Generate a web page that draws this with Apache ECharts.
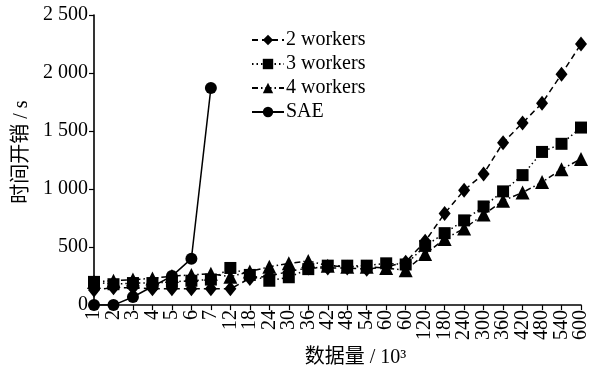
<!DOCTYPE html>
<html>
<head>
<meta charset="utf-8">
<script src="https://cdn.jsdelivr.net/npm/echarts@6/dist/echarts.min.js"></script>
<style>
  html, body { margin: 0; padding: 0; background: #fff; }
  #chart { width: 601px; height: 373px; }
</style>
</head>
<body>
<div id="chart"></div>
<script>
// Data size (×10^3 records) on the category axis
const categories = ['1','2','3','4','5','6','7','12','18','24','30','36','42','48','54','60','60','120','180','240','300','360','420','480','540','600'];

// Time overhead (s) per configuration
const workers2 = [130, 150, 150, 140, 140, 140, 140, 140, 230, 250, 290, 320, 320, 320, 310, 330, 370, 550, 790, 990, 1130, 1400, 1570, 1740, 1990, 2250];
const workers3 = [200, 180, 190, 190, 200, 210, 220, 320, 260, 210, 240, 310, 340, 340, 340, 360, 350, 510, 620, 730, 850, 980, 1120, 1320, 1390, 1530];
const workers4 = [200, 210, 220, 230, 250, 260, 270, 245, 290, 330, 360, 380, 340, 330, 330, 320, 300, 440, 570, 660, 780, 900, 970, 1060, 1170, 1260];
const sae      = [0, 0, 70, 160, 250, 400, 1870];

const yTicks = { min: 0, max: 2500, step: 500 };

const FONT = '"Liberation Serif", "Times New Roman", "Noto Sans CJK SC", serif';
const INK = '#000';
const FS = 20;

function thousands(v) {
  if (v < 1000) return String(v);
  return Math.floor(v / 1000) + ' ' + String(v % 1000).padStart(3, '0');
}

function lineSeries(name, data, symbol, size, dash) {
  return {
    name: name,
    type: 'line',
    data: data,
    symbol: symbol,
    symbolSize: size,
    showSymbol: true,
    animation: false,
    itemStyle: { color: INK },
    lineStyle: { color: INK, width: 1.5, type: dash },
    emphasis: { disabled: true }
  };
}

const chart = echarts.init(document.getElementById('chart'), null, { renderer: 'canvas' });
chart.setOption({
  animation: false,
  backgroundColor: '#fff',
  textStyle: { fontFamily: FONT, color: INK },
  grid: { left: 94, right: 20, top: 15, bottom: 65, containLabel: false },
  legend: {
    orient: 'vertical',
    left: 246,
    top: 25,
    itemWidth: 32,
    itemHeight: 13,
    itemGap: 4,
    textStyle: { fontFamily: FONT, fontSize: FS, color: INK, padding: [0, 0, 0, -3] },
    data: ['2 workers', '3 workers', '4 workers', 'SAE']
  },
  xAxis: {
    type: 'category',
    data: categories,
    boundaryGap: false,
    name: '数据量 / 10³',
    nameLocation: 'middle',
    nameGap: 39,
    nameTextStyle: { fontFamily: FONT, fontSize: FS, color: INK, padding: [0, 0, 0, 36] },
    axisLine: { lineStyle: { color: INK, width: 1.6 } },
    axisTick: { show: true, length: 5, inside: false, interval: 0, lineStyle: { color: INK, width: 1.2 } },
    axisLabel: { interval: 0, rotate: 90, margin: 5, fontFamily: FONT, fontSize: FS, color: INK },
    splitLine: { show: false }
  },
  yAxis: {
    type: 'value',
    min: yTicks.min,
    max: yTicks.max,
    interval: yTicks.step,
    name: '时间开销 / s',
    nameLocation: 'middle',
    nameGap: 61,
    nameTextStyle: { fontFamily: FONT, fontSize: FS, color: INK, padding: [0, 0, 0, 16] },
    axisLine: { show: true, lineStyle: { color: INK, width: 1.6 } },
    axisTick: { show: true, length: 5, inside: false, lineStyle: { color: INK, width: 1.2 } },
    axisLabel: { margin: 6, fontFamily: FONT, fontSize: FS, color: INK, formatter: thousands },
    splitLine: { show: false }
  },
  series: [
    lineSeries('2 workers', workers2, 'diamond', [12, 15], [6, 4]),
    lineSeries('3 workers', workers3, 'rect', 12, [1.5, 3]),
    lineSeries('4 workers', workers4, 'triangle', 14, [6, 3, 1.5, 3]),
    lineSeries('SAE', sae, 'circle', 12, 'solid')
  ]
});
</script>
</body>
</html>
